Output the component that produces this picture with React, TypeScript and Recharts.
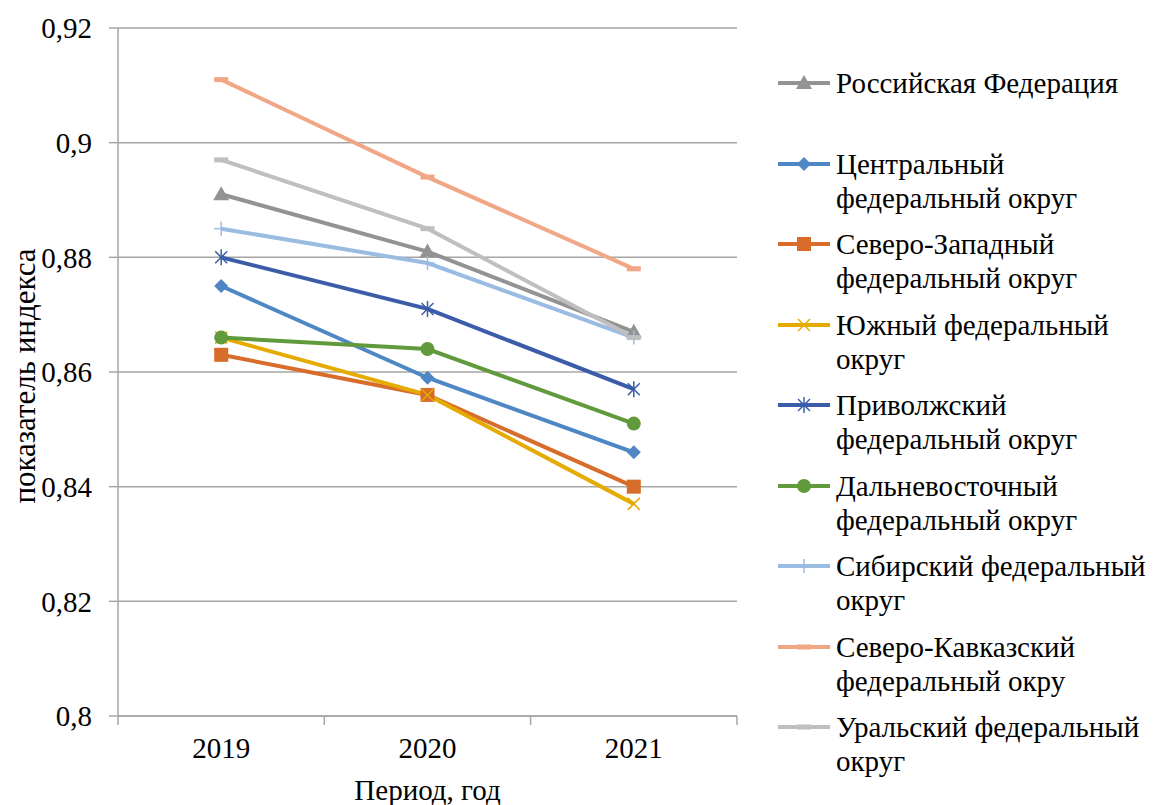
import { LineChart, Line, XAxis, YAxis, CartesianGrid, Legend, Label } from "recharts";

const years = ["2019", "2020", "2021"];

const russia = [0.891, 0.881, 0.867];
const central = [0.875, 0.859, 0.846];
const northWest = [0.863, 0.856, 0.84];
const south = [0.866, 0.856, 0.837];
const volga = [0.88, 0.871, 0.857];
const farEast = [0.866, 0.864, 0.851];
const siberia = [0.885, 0.879, 0.866];
const northCaucasus = [0.911, 0.894, 0.878];
const ural = [0.897, 0.885, 0.866];

const yTicks = [0.8, 0.82, 0.84, 0.86, 0.88, 0.9, 0.92];

const series = [
  { key: "rf", name: "Российская Федерация", values: russia, color: "#939393", marker: "triangle" },
  { key: "cfo", name: "Центральный федеральный округ", values: central, color: "#4e87c4", marker: "diamond" },
  { key: "szfo", name: "Северо-Западный федеральный округ", values: northWest, color: "#d86c2b", marker: "square" },
  { key: "yufo", name: "Южный федеральный округ", values: south, color: "#e5ab00", marker: "x" },
  { key: "pfo", name: "Приволжский федеральный округ", values: volga, color: "#3a5ca9", marker: "star" },
  { key: "dfo", name: "Дальневосточный федеральный округ", values: farEast, color: "#619a3c", marker: "circle" },
  { key: "sfo", name: "Сибирский федеральный округ", values: siberia, color: "#9abce3", marker: "plus" },
  { key: "skfo", name: "Северо-Кавказский федеральный окру", values: northCaucasus, color: "#f1a686", marker: "dash" },
  { key: "ufo", name: "Уральский федеральный округ", values: ural, color: "#bfbfbf", marker: "dash" },
];

const data = years.map((year, i) => {
  const row: Record<string, string | number> = { year };
  series.forEach((s) => {
    row[s.key] = s.values[i];
  });
  return row;
});

const CSS_FONT = '"Liberation Serif"';
const SVG_FONT = "Liberation Serif";
const GRID = "#a6a6a6";
const HALF_BAND = 103.2;

const Marker = ({ kind, cx, cy, color }: { kind: string; cx: number; cy: number; color: string }) => {
  switch (kind) {
    case "triangle":
      return <polygon points={`${cx},${cy - 8} ${cx + 8},${cy + 6} ${cx - 8},${cy + 6}`} fill={color} />;
    case "diamond":
      return <polygon points={`${cx},${cy - 7} ${cx + 7},${cy} ${cx},${cy + 7} ${cx - 7},${cy}`} fill={color} />;
    case "square":
      return <rect x={cx - 7} y={cy - 7} width={14} height={14} fill={color} />;
    case "x":
      return (
        <g stroke={color} strokeWidth={1.5}>
          <line x1={cx - 6} y1={cy - 6} x2={cx + 6} y2={cy + 6} />
          <line x1={cx - 6} y1={cy + 6} x2={cx + 6} y2={cy - 6} />
        </g>
      );
    case "star":
      return (
        <g stroke={color} strokeWidth={1.5}>
          <line x1={cx - 6} y1={cy - 6} x2={cx + 6} y2={cy + 6} />
          <line x1={cx - 6} y1={cy + 6} x2={cx + 6} y2={cy - 6} />
          <line x1={cx} y1={cy - 8} x2={cx} y2={cy + 8} />
        </g>
      );
    case "circle":
      return <circle cx={cx} cy={cy} r={7} fill={color} />;
    case "plus":
      return (
        <g stroke={color} strokeWidth={1.5}>
          <line x1={cx - 7} y1={cy} x2={cx + 7} y2={cy} />
          <line x1={cx} y1={cy - 7} x2={cx} y2={cy + 7} />
        </g>
      );
    case "dash":
      return <rect x={cx - 7} y={cy - 2.5} width={14} height={5} fill={color} />;
    default:
      return null;
  }
};

const TICK_GAP = 12;

const YearTick = (props: any) => {
  const { x, y, payload, index, visibleTicksCount } = props;
  const axisY = y - TICK_GAP;
  const last = index === visibleTicksCount - 1;
  return (
    <g>
      <line x1={x - HALF_BAND} y1={axisY} x2={x - HALF_BAND} y2={axisY + 9} stroke={GRID} strokeWidth={1.5} />
      {last && <line x1={x + HALF_BAND} y1={axisY} x2={x + HALF_BAND} y2={axisY + 9} stroke={GRID} strokeWidth={1.5} />}
      <text x={x} y={axisY + 32} textAnchor="middle" dominantBaseline="central" fontSize={29} fontFamily={SVG_FONT} fill="#000">
        {payload.value}
      </text>
    </g>
  );
};

const LegendList = () => (
  <div style={{ fontFamily: CSS_FONT, fontSize: 29, lineHeight: "34px", color: "#000" }}>
    {series.map((s) => (
      <div key={s.key} style={{ display: "flex", alignItems: "flex-start", height: 80.5 }}>
        <svg width={52} height={34} style={{ flex: "none" }}>
          <line x1={0} y1={17} x2={52} y2={17} stroke={s.color} strokeWidth={4} />
          <Marker kind={s.marker} cx={26} cy={17} color={s.color} />
        </svg>
        <div style={{ marginLeft: 6, width: 318 }}>{s.name}</div>
      </div>
    ))}
  </div>
);

export default function App() {
  return (
    <div style={{ position: "absolute", left: 0, top: 0, background: "#fff", fontFamily: CSS_FONT }}>
      <LineChart width={1154} height={805} data={data} margin={{ top: 28, right: 41, bottom: 0, left: 0 }}>
        <CartesianGrid vertical={false} stroke={GRID} strokeWidth={1.5} />
        <XAxis
          dataKey="year"
          height={89}
          padding={{ left: HALF_BAND, right: HALF_BAND }}
          axisLine={{ stroke: GRID, strokeWidth: 1.5 }}
          tickLine={false}
          tickSize={0}
          tickMargin={TICK_GAP}
          tick={<YearTick />}
          interval={0}
        >
          <Label
            content={(p: any) => {
              const vb = p.viewBox || { x: 118, width: 619, y: 716 };
              return (
                <text x={vb.x + vb.width / 2} y={vb.y + 74} textAnchor="middle" dominantBaseline="central" fontSize={29} fontFamily={SVG_FONT} fill="#000">
                  Период, год
                </text>
              );
            }}
          />
        </XAxis>
        <YAxis
          width={118}
          domain={[0.8, 0.92]}
          ticks={yTicks}
          interval={0}
          axisLine={{ stroke: GRID, strokeWidth: 1.5 }}
          tickLine={{ stroke: GRID, strokeWidth: 1.5 }}
          tickSize={9}
          tickMargin={17}
          tickFormatter={(v: number) => String(v).replace(".", ",")}
          tick={{ fontSize: 29, fontFamily: SVG_FONT, fill: "#000" }}
        >
          <Label
            content={(p: any) => {
              const vb = p.viewBox || { y: 28, height: 688 };
              const cy = vb.y + vb.height / 2 + 4;
              return (
                <text x={24} y={cy} transform={`rotate(-90 24 ${cy})`} textAnchor="middle" dominantBaseline="central" fontSize={31} fontFamily={SVG_FONT} fill="#000">
                  показатель индекса
                </text>
              );
            }}
          />
        </YAxis>
        <Legend
          layout="vertical"
          align="right"
          verticalAlign="top"
          content={() => <LegendList />}
          wrapperStyle={{ left: 778, right: "auto", top: 66, width: 376 }}
        />
        {series.map((s) => (
          <Line
            key={s.key}
            dataKey={s.key}
            name={s.name}
            stroke={s.color}
            strokeWidth={4}
            isAnimationActive={false}
            dot={(p: any) => (
              <g key={`${s.key}-${p.index}`}>
                <Marker kind={s.marker} cx={p.cx} cy={p.cy} color={s.color} />
              </g>
            )}
            activeDot={false}
          />
        ))}
      </LineChart>
    </div>
  );
}
